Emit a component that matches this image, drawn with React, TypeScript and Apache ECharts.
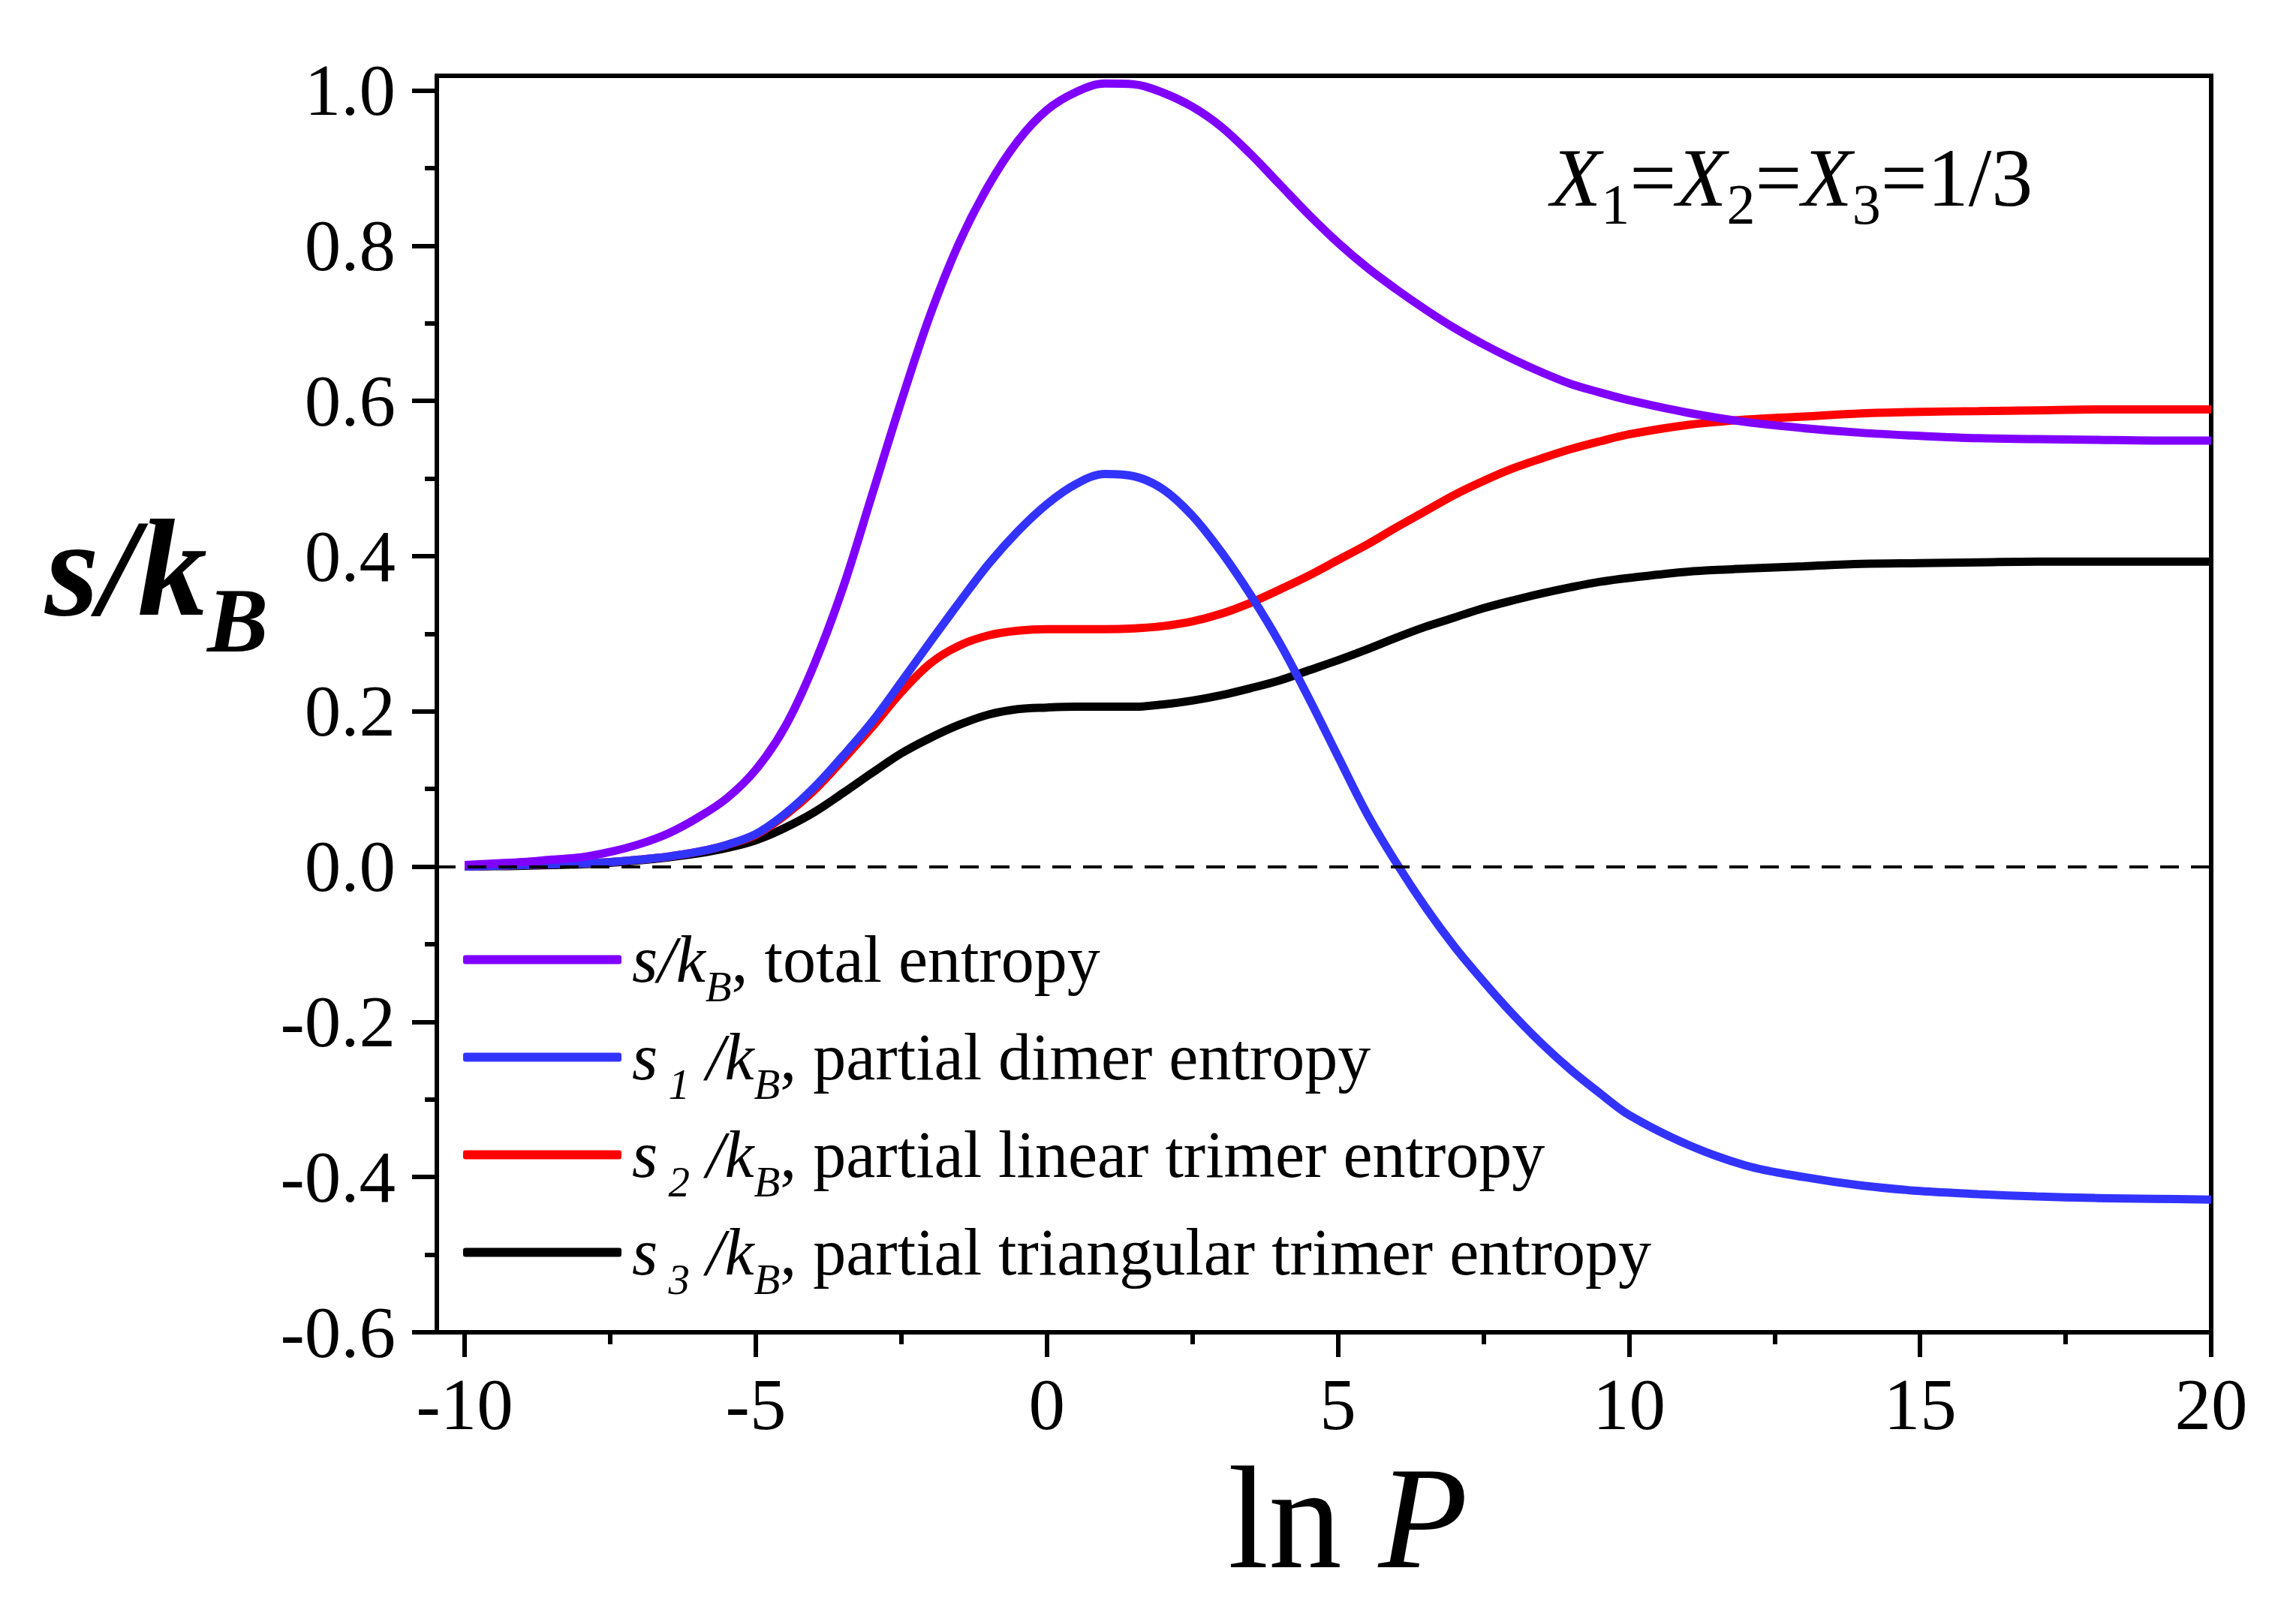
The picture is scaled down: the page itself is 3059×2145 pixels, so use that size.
import React, { useEffect, useRef } from "react";
import * as echarts from "echarts";

const lnP = [-10, -9.5, -9, -8.5, -8, -7.5, -7, -6.5, -6, -5.5, -5, -4.5, -4, -3.5, -3, -2.5, -2, -1.5, -1, -0.5, 0, 0.5, 1, 1.5, 2, 2.5, 3, 3.5, 4, 4.5, 5, 5.5, 6, 6.5, 7, 7.5, 8, 8.5, 9, 9.5, 10, 11, 12, 13, 14, 15, 16, 17, 18, 19, 20];
const sTotal = [0.002, 0.004, 0.006, 0.009, 0.012, 0.019, 0.029, 0.043, 0.063, 0.088, 0.125, 0.18, 0.26, 0.36, 0.48, 0.6, 0.712, 0.805, 0.878, 0.935, 0.975, 0.998, 1.009, 1.008, 0.997, 0.979, 0.953, 0.918, 0.879, 0.84, 0.804, 0.772, 0.744, 0.718, 0.694, 0.673, 0.654, 0.637, 0.622, 0.611, 0.601, 0.585, 0.573, 0.565, 0.559, 0.555, 0.552, 0.551, 0.55, 0.549, 0.549];
const s1 = [0.0, 0.001, 0.002, 0.003, 0.004, 0.006, 0.009, 0.013, 0.019, 0.028, 0.042, 0.068, 0.102, 0.143, 0.187, 0.238, 0.29, 0.341, 0.39, 0.432, 0.467, 0.493, 0.506, 0.503, 0.486, 0.452, 0.405, 0.35, 0.288, 0.217, 0.142, 0.068, 0.005, -0.052, -0.103, -0.148, -0.19, -0.228, -0.262, -0.292, -0.32, -0.358, -0.385, -0.4, -0.411, -0.418, -0.422, -0.425, -0.427, -0.428, -0.429];
const s2 = [0.0, 0.001, 0.002, 0.003, 0.004, 0.006, 0.009, 0.013, 0.019, 0.028, 0.041, 0.066, 0.098, 0.138, 0.18, 0.225, 0.262, 0.285, 0.298, 0.304, 0.306, 0.306, 0.306, 0.307, 0.31, 0.316, 0.326, 0.34, 0.357, 0.375, 0.395, 0.415, 0.437, 0.458, 0.479, 0.497, 0.513, 0.526, 0.538, 0.548, 0.557, 0.569, 0.576, 0.58, 0.584, 0.586, 0.587, 0.588, 0.589, 0.589, 0.589];
const s3 = [0.0, 0.0005, 0.001, 0.002, 0.003, 0.005, 0.008, 0.012, 0.017, 0.024, 0.034, 0.05, 0.07, 0.095, 0.121, 0.146, 0.166, 0.183, 0.196, 0.203, 0.205, 0.206, 0.206, 0.206, 0.209, 0.214, 0.221, 0.23, 0.24, 0.253, 0.266, 0.28, 0.295, 0.309, 0.321, 0.333, 0.343, 0.352, 0.36, 0.367, 0.372, 0.38, 0.384, 0.387, 0.39, 0.391, 0.392, 0.393, 0.393, 0.393, 0.393];

const xMajorTicks = [-10, -5, 0, 5, 10, 15, 20];
const xMinorTicks = [-7.5, -2.5, 2.5, 7.5, 12.5, 17.5];
const yMajorTicks = [-0.6, -0.4, -0.2, 0, 0.2, 0.4, 0.6, 0.8, 1.0];
const yMinorTicks = [-0.5, -0.3, -0.1, 0.1, 0.3, 0.5, 0.7, 0.9];

const seriesNames = ["total", "dimer", "linear", "triangular"];
const legendTexts: Record<string, string> = {
  total: "{i|s/k}{b|B}{r|, total entropy}",
  dimer: "{i|s}{b| 1}{i| /k}{b|B}{r|, partial dimer entropy}",
  linear: "{i|s}{b| 2}{i| /k}{b|B}{r|, partial linear trimer entropy}",
  triangular: "{i|s}{b| 3}{i| /k}{b|B}{r|, partial triangular trimer entropy}",
};
const colors: Record<string, string> = {
  total: "#8000FF",
  dimer: "#3333FF",
  linear: "#FF0000",
  triangular: "#000000",
};

const FONT = "'Liberation Serif', 'Times New Roman', serif";

export default function App() {
  const ref = useRef<HTMLDivElement>(null);
  useEffect(() => {
    if (!ref.current) return;
    const chart = echarts.init(ref.current, undefined, { renderer: "svg" });
    const dataFor = (vals: number[]) => lnP.map((x, i) => [x, vals[i]]);
    const lineSeries = (name: string, vals: number[], extra: any = {}) => ({
      type: "line",
      name,
      data: dataFor(vals),
      xAxisIndex: 0,
      yAxisIndex: 0,
      symbol: "none",
      showSymbol: false,
      smooth: 0.35,
      color: colors[name],
      lineStyle: { color: colors[name], width: 11 },
      ...extra,
    });
    const axisCommon = {
      type: "value",
      splitLine: { show: false },
    };
    const LF = 88;
    const tickStyle = { color: "#000", width: 6 };
    const option: any = {
      animation: false,
      backgroundColor: "#ffffff",
      grid: {
        left: 582,
        top: 101,
        width: 2364,
        height: 1674,
        show: true,
        borderColor: "#000",
        borderWidth: 6,
        backgroundColor: "transparent",
      },
      xAxis: [
        {
          ...axisCommon,
          min: -10.48,
          max: 20,
          position: "bottom",
          axisLine: { show: true, onZero: false, lineStyle: { color: "#000", width: 6 } },
          axisTick: { show: true, length: 33, customValues: xMajorTicks, lineStyle: tickStyle },
          axisLabel: {
            customValues: xMajorTicks,
            fontFamily: FONT,
            fontSize: 97,
            color: "#000",
            margin: 48,
            formatter: (v: number) => String(v),
          },
        },
        {
          ...axisCommon,
          min: -10.48,
          max: 20,
          position: "bottom",
          axisLine: { show: false, onZero: false },
          axisTick: { show: true, length: 16, customValues: xMinorTicks, lineStyle: tickStyle },
          axisLabel: { show: false },
        },
      ],
      yAxis: [
        {
          ...axisCommon,
          min: -0.6,
          max: 1.019,
          position: "left",
          axisLine: { show: true, onZero: false, lineStyle: { color: "#000", width: 6 } },
          axisTick: { show: true, length: 33, customValues: yMajorTicks, lineStyle: tickStyle },
          axisLabel: {
            customValues: yMajorTicks,
            fontFamily: FONT,
            fontSize: 97,
            color: "#000",
            margin: 55,
            formatter: (v: number) => v.toFixed(1),
          },
        },
        {
          ...axisCommon,
          min: -0.6,
          max: 1.019,
          position: "left",
          axisLine: { show: false, onZero: false },
          axisTick: { show: true, length: 16, customValues: yMinorTicks, lineStyle: tickStyle },
          axisLabel: { show: false },
        },
      ],
      legend: {
        show: true,
        orient: "vertical",
        left: 617,
        top: 1214,
        padding: 0,
        itemWidth: 211,
        itemHeight: 12,
        itemGap: 1,
        icon: "roundRect",
        data: seriesNames,
        formatter: (name: string) => legendTexts[name],
        textStyle: {
          fontFamily: FONT,
          fontSize: LF,
          color: "#000",
          padding: [0, 0, 0, 9],
          rich: {
            i: { fontFamily: FONT, fontStyle: "italic", fontSize: LF, lineHeight: 95, verticalAlign: "middle", color: "#000" },
            r: { fontFamily: FONT, fontSize: LF, lineHeight: 95, verticalAlign: "middle", color: "#000" },
            b: { fontFamily: FONT, fontStyle: "italic", fontSize: 57, lineHeight: 95, verticalAlign: "middle", padding: [72, 0, 0, 0], color: "#000" },
          },
        },
      },
      title: [
        {
          text: "{a|s/k}{b|B}",
          left: 60,
          top: 656,
          padding: 0,
          textStyle: {
            fontFamily: FONT,
            rich: {
              a: { fontFamily: FONT, fontSize: 185, fontStyle: "italic", fontWeight: "bold", lineHeight: 200, verticalAlign: "middle", color: "#000" },
              b: { fontFamily: FONT, fontSize: 122, fontStyle: "italic", fontWeight: "bold", lineHeight: 200, verticalAlign: "middle", padding: [141, 0, 0, 0], color: "#000" },
            },
          },
        },
        {
          text: "{a|ln}{b| P}",
          left: 1636,
          top: 1954,
          padding: 0,
          textStyle: {
            fontFamily: FONT,
            rich: {
              a: { fontFamily: FONT, fontSize: 195, fontWeight: "normal", lineHeight: 136, verticalAlign: "middle", color: "#000" },
              b: { fontFamily: FONT, fontSize: 195, fontStyle: "italic", fontWeight: "normal", lineHeight: 136, verticalAlign: "middle", color: "#000" },
            },
          },
        },
        {
          text: "{i|X}{s|1}{r|=}{i|X}{s|2}{r|=}{i|X}{s|3}{r|=1/3}",
          left: 2066,
          top: 175,
          padding: 0,
          textStyle: {
            fontFamily: FONT,
            rich: {
              i: { fontFamily: FONT, fontSize: 110, fontStyle: "italic", fontWeight: "normal", lineHeight: 124, verticalAlign: "middle", color: "#000" },
              r: { fontFamily: FONT, fontSize: 110, fontWeight: "normal", lineHeight: 124, verticalAlign: "middle", color: "#000" },
              s: { fontFamily: FONT, fontSize: 76, fontWeight: "normal", lineHeight: 124, verticalAlign: "middle", padding: [70, 0, 0, 0], color: "#000" },
            },
          },
        },
      ],
      series: [
        lineSeries("triangular", s3, {
          markLine: {
            silent: true,
            symbol: "none",
            label: { show: false },
            lineStyle: { type: [25, 16], color: "#000", width: 4 },
            data: [{ yAxis: 0 }],
          },
        }),
        lineSeries("linear", s2),
        lineSeries("dimer", s1),
        lineSeries("total", sTotal),
      ],
    };
    chart.setOption(option);
    return () => chart.dispose();
  }, []);
  return (
    <div
      ref={ref}
      style={{ position: "absolute", left: 0, top: 0, width: 3059, height: 2145, background: "#fff" }}
    />
  );
}
